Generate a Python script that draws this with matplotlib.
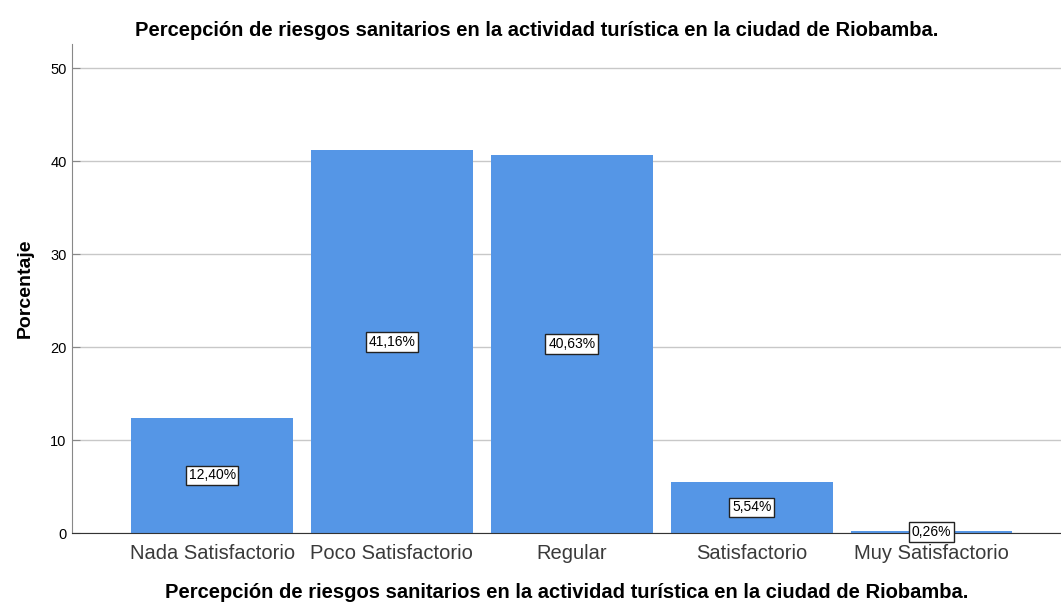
#!/usr/bin/env python3
import numpy as np
import matplotlib
matplotlib.use('Agg')
import matplotlib.pyplot as plt

plt.rcParams['font.family'] = ['Liberation Sans', 'DejaVu Sans']

# datos
categorias = ['Nada Satisfactorio', 'Poco Satisfactorio', 'Regular',
              'Satisfactorio', 'Muy Satisfactorio']
porcentajes = [12.40, 41.16, 40.63, 5.54, 0.26]
etiquetas = ['12,40%', '41,16%', '40,63%', '5,54%', '0,26%']
titulo = 'Percepción de riesgos sanitarios en la actividad turística en la ciudad de Riobamba.'

fig = plt.figure(figsize=(10.61, 6.04), dpi=100)
ax = fig.add_axes([0.068, 0.1175, 0.932, 0.8095])

x = np.arange(len(categorias))
ax.bar(x, porcentajes, width=0.9, color='#5596E6', zorder=2)

# etiquetas en el centro de cada barra
for xi, v, lab in zip(x, porcentajes, etiquetas):
    ax.text(xi, v / 2, lab, ha='center', va='center', fontsize=10, zorder=3,
            bbox=dict(boxstyle='square,pad=0.2', fc='white', ec='#222222', lw=1))

ax.set_xlim(-0.778, 4.72)
ax.set_ylim(0, 52.6)
ax.set_yticks([0, 10, 20, 30, 40, 50])
ax.set_xticks(x)
ax.set_xticklabels(categorias, fontsize=14.5, color='#3a3a3a')
ax.tick_params(axis='x', length=0, pad=8)
ax.tick_params(axis='y', labelsize=10.5, length=6, color='#888888', direction='in', pad=4)
ax.yaxis.grid(True, color='#C8C8C8', lw=1, zorder=0)

for s in ['top', 'right']:
    ax.spines[s].set_visible(False)
ax.spines['left'].set_color('#888888')
ax.spines['bottom'].set_color('#333333')

ax.set_ylabel('Porcentaje', fontsize=14, fontweight='bold', labelpad=12)
ax.set_xlabel(titulo, fontsize=14.5, fontweight='bold', labelpad=14)
fig.suptitle(titulo, fontsize=14.5, fontweight='bold', x=0.506, y=0.966)

fig.savefig('out.png', dpi=100)
